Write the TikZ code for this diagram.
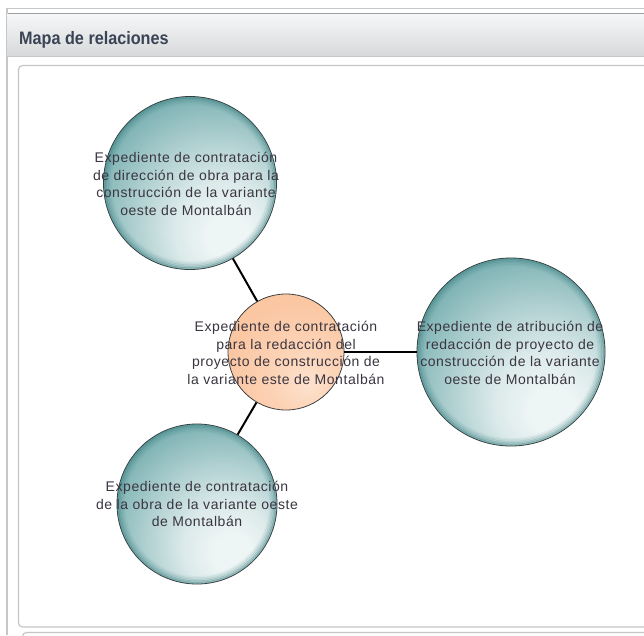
\documentclass[tikz,border=0pt]{standalone}
\usepackage{fontspec}
\setmainfont{Liberation Sans}
\newfontfamily\bodyfont[LetterSpace=4]{Liberation Sans}
\definecolor{tlHi}{HTML}{EEF5F5}
\definecolor{tlA}{HTML}{DCEAEA}
\definecolor{tlB}{HTML}{B0D0D1}
\definecolor{tlC}{HTML}{82B5B6}
\definecolor{tlD}{HTML}{5F9EA0}
\definecolor{tlE}{HTML}{4A8E90}
\definecolor{tlF}{HTML}{3A7D7F}
\definecolor{orHi}{HTML}{FDE2CF}
\definecolor{orA}{HTML}{FCD3B6}
\definecolor{orB}{HTML}{FBC7A3}
\definecolor{orC}{HTML}{F6BA92}
\definecolor{txt}{HTML}{3A3540}
\definecolor{ttl}{HTML}{3A4455}
\definecolor{frame}{HTML}{C4C6C8}
\definecolor{hdTop}{HTML}{F6F7F8}
\definecolor{hdBot}{HTML}{D8D9DA}
\pgfdeclareradialshading{tealball}{\pgfpoint{12bp}{-17bp}}{color(0bp)=(tlHi); color(6bp)=(tlHi); color(14bp)=(tlA); color(24bp)=(tlB); color(34bp)=(tlC); color(45bp)=(tlD); color(57bp)=(tlE); color(74bp)=(tlF)}
\pgfdeclareradialshading{orangeball}{\pgfpoint{10bp}{-14bp}}{color(0bp)=(orHi); color(14bp)=(orA); color(30bp)=(orB); color(55bp)=(orB); color(75bp)=(orC)}
\tikzset{
  tball/.style={circle, shading=tealball, draw=black!80, line width=0.8pt, inner sep=0pt},
  oball/.style={circle, shading=orangeball, draw=black!75, line width=0.8pt, inner sep=0pt},
  label text/.style={align=center, text=txt, font=\bodyfont\fontsize{14}{17.5}\selectfont},
  link/.style={line width=2pt, black},
  rim/.style={draw=tlF, line width=2pt}
}
\newcommand{\rimring}[2]{%
  \foreach \k/\o in {1/0.45,2.5/0.3,4/0.2,5.5/0.12,7/0.06}
    \path[rim, opacity=\o] (#1.center) circle[radius=#2-\k];}
\begin{document}
\begin{tikzpicture}[x=1pt,y=-1pt]
\useasboundingbox (0,0) rectangle (644,635);
\fill[white] (0,0) rectangle (644,635);
% panel frame
\draw[frame, line width=1.2pt] (7,635) -- (7,8.5) -- (644,8.5);
\shade[top color=hdTop, bottom color=hdBot] (7.6,13.5) rectangle (644,56);
\draw[frame!80!black, line width=1.1pt] (7.6,13.5) -- (644,13.5);
\draw[frame, line width=0.8pt] (7.6,56) -- (644,56);
\node[anchor=base west, text=ttl, inner sep=0pt, font=\bfseries\fontsize{18}{20}\selectfont] (title) at (19,44) {\scalebox{0.9}[1]{Mapa de relaciones}};
\draw[frame, line width=1.2pt, rounded corners=4pt] (650,65.5) -- (18.5,65.5) -- (18.5,627) -- (650,627);
\draw[frame, line width=1.2pt, rounded corners=4pt] (650,632.5) -- (22.5,632.5) -- (22.5,640);
% circles
\node[tball, minimum size=173pt] (top) at (190,183) {};
\node[oball, minimum size=116pt] (mid) at (286,352) {};
\node[tball, minimum size=188pt] (right) at (511,352) {};
\node[tball, minimum size=160pt] (bot) at (197,504) {};
\rimring{top}{86.5}
\rimring{right}{94}
\rimring{bot}{80}
% connectors
\draw[link] (mid) -- (top);
\draw[link] (mid) -- (right);
\draw[link] (mid) -- (bot);
% labels
\node[label text] (ttop) at (186,184) {Expediente de contratación\\de dirección de obra para la\\construcción de la variante\\oeste de Montalbán};
\node[label text] (tmid) at (286,353) {Expediente de contratación\\para la redacción del\\proyecto de construcción de\\la variante este de Montalbán};
\node[label text] (tright) at (510,353) {Expediente de atribución de\\redacción de proyecto de\\construcción de la variante\\oeste de Montalbán};
\node[label text] (tbot) at (197,504) {Expediente de contratación\\de la obra de la variante oeste\\de Montalbán};
\end{tikzpicture}
\end{document}
